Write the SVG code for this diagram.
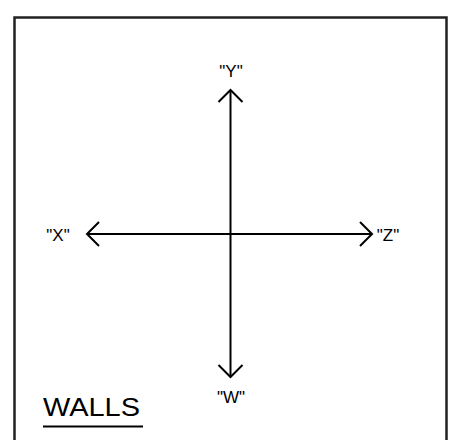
<svg xmlns="http://www.w3.org/2000/svg" width="449" height="440" viewBox="0 0 449 440">
<defs>
<style>
.lbl{font-family:"Liberation Sans","DejaVu Sans",sans-serif;font-size:17px;fill:#000;}
.title{font-family:"Liberation Sans","DejaVu Sans",sans-serif;font-size:26px;fill:#000;}
.axis{stroke:#000;stroke-width:2;fill:none;}
</style>
<marker id="chev" markerUnits="userSpaceOnUse" viewBox="-14 -14 16 28" markerWidth="16" markerHeight="28" refX="0" refY="0" orient="auto-start-reverse">
<path d="M-12,-12 L0,0 L-12,12" fill="none" stroke="#000" stroke-width="2"/>
</marker>
</defs>
<rect x="0" y="0" width="449" height="440" fill="#fff"/>
<rect id="frame" x="14.5" y="17.5" width="432" height="440" fill="none" stroke="#222" stroke-width="2.5"/>
<g id="connectors">
<line class="axis" x1="230.5" y1="90" x2="230.5" y2="377" marker-start="url(#chev)" marker-end="url(#chev)"/>
<line class="axis" x1="87" y1="234" x2="372" y2="234" marker-start="url(#chev)" marker-end="url(#chev)"/>
</g>
<g id="node-y"><text class="lbl" x="231" y="77" text-anchor="middle">"Y"</text></g>
<g id="node-x"><text class="lbl" x="58" y="241" text-anchor="middle">"X"</text></g>
<g id="node-z"><text class="lbl" x="388" y="241" text-anchor="middle">"Z"</text></g>
<g id="node-w"><text class="lbl" x="231" y="403" text-anchor="middle">"W"</text></g>
<g id="title">
<text class="title" x="43" y="416" textLength="97" lengthAdjust="spacingAndGlyphs">WALLS</text>
<line x1="43" y1="426.5" x2="143" y2="426.5" stroke="#000" stroke-width="2"/>
</g>
</svg>
